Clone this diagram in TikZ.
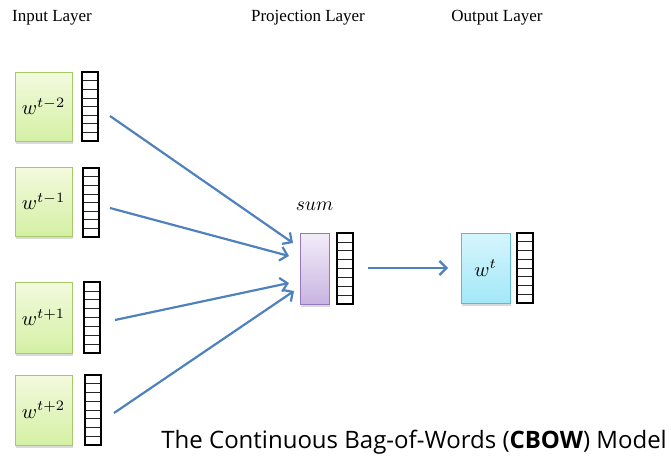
\documentclass[tikz,border=0pt]{standalone}
\usepackage{graphicx}
\usepackage{fontspec}
\setmainfont{Liberation Serif}
\newfontfamily\capfont{Open Sans}
\usetikzlibrary{arrows.meta,calc,shadows}
\definecolor{gtop}{RGB}{243,250,222}
\definecolor{gbot}{RGB}{212,240,164}
\definecolor{gbord}{RGB}{166,201,106}
\definecolor{ptop}{RGB}{243,237,249}
\definecolor{pbot}{RGB}{201,180,225}
\definecolor{pbord}{RGB}{150,120,190}
\definecolor{ctop}{RGB}{214,245,253}
\definecolor{cbot}{RGB}{163,232,248}
\definecolor{cbord}{RGB}{96,185,210}
\definecolor{arr}{RGB}{79,129,189}
\newcommand{\wlabel}[1]{\scalebox{2.05}{$#1$}}
\tikzset{
  wordbox/.style={rectangle, inner sep=0pt, minimum width=57pt, minimum height=69pt,
    draw=gbord, line width=0.8pt, top color=gtop, bottom color=gbot,
    drop shadow={shadow xshift=1pt, shadow yshift=-2.5pt, opacity=0.25, fill=black!60}},
  sumbox/.style={wordbox, minimum width=29pt, minimum height=71pt, draw=pbord, top color=ptop, bottom color=pbot},
  outbox/.style={wordbox, minimum width=49pt, minimum height=70pt, draw=cbord, top color=ctop, bottom color=cbot},
  vecbox/.style={rectangle, inner sep=0pt, minimum width=16pt, minimum height=69pt, draw=black, line width=1.2pt, fill=white,
    path picture={\foreach \i in {1,...,7}{\draw[line width=0.7pt, black!85]
      ($(path picture bounding box.north west)!\i/8!(path picture bounding box.south west)$) --
      ($(path picture bounding box.north east)!\i/8!(path picture bounding box.south east)$);}}},
  title/.style={font=\fontsize{17}{20}\selectfont, inner sep=0pt},
  conn/.style={draw=arr, line width=2.2pt, -{Straight Barb[length=7pt,width=14pt,line width=2.2pt]}},
}
\begin{document}
\begin{tikzpicture}[x=1pt,y=-1pt]
\useasboundingbox (0,0) rectangle (671,455);
\node[title] (tin) at (52,18) {Input Layer};
\node[title] (tproj) at (308,18) {Projection Layer};
\node[title] (tout) at (497,18) {Output Layer};

\node[wordbox] (b1) at (43.5,106.5) {\wlabel{w^{t-2}}};
\node[vecbox] (v1) at (90,106.5) {};
\node[wordbox] (b2) at (43.5,201.5) {\wlabel{w^{t-1}}};
\node[vecbox] (v2) at (91,202.5) {};
\node[wordbox, minimum height=71pt] (b3) at (43.5,317.5) {\wlabel{w^{t+1}}};
\node[vecbox, minimum height=71pt] (v3) at (92,317.5) {};
\node[wordbox, minimum height=70pt] (b4) at (43.5,410) {\wlabel{w^{t+2}}};
\node[vecbox, minimum height=70pt] (v4) at (93,410) {};

\node[sumbox] (s) at (314.5,268.5) {};
\node[vecbox, minimum height=71pt] (vs) at (345,268.5) {};
\node (sl) at (314.5,206) {\scalebox{1.95}{$sum$}};

\node[outbox] (o) at (485.5,268) {\wlabel{w^{t}}};
\node[vecbox, minimum height=70pt] (vo) at (525,268) {};

\coordinate (a1s) at (110,116);
\coordinate (a1e) at (293,243);
\coordinate (a2s) at (110,208);
\coordinate (a2e) at (289,256);
\coordinate (a3s) at (115,320);
\coordinate (a3e) at (289,283);
\coordinate (a4s) at (114,413);
\coordinate (a4e) at (294,291);
\coordinate (a5s) at (368,268);
\coordinate (a5e) at (448,268);
\draw[conn] (a1s) -- (a1e);
\draw[conn] (a2s) -- (a2e);
\draw[conn] (a3s) -- (a3e);
\draw[conn] (a4s) -- (a4e);
\draw[conn] (a5s) -- (a5e);

\node[anchor=base east, inner sep=0pt, font=\capfont\fontsize{24}{28}\selectfont] (cap) at (667,448) {The Continuous Bag-of-Words (\textbf{CBOW}) Model};
\end{tikzpicture}
\end{document}
